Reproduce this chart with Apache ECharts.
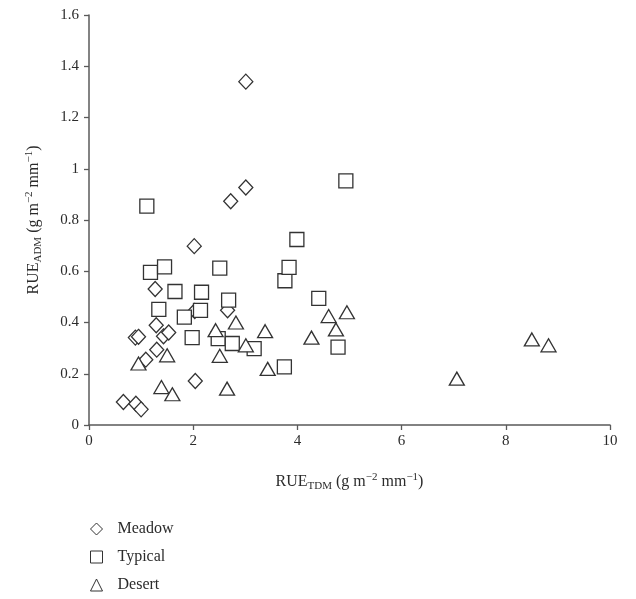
<!DOCTYPE html>
<html>
<head>
<meta charset="utf-8">
<script src="https://cdn.jsdelivr.net/npm/echarts@6/dist/echarts.min.js"></script>
<style>
  html, body { margin: 0; padding: 0; background: #fff; }
  #chart { width: 636px; height: 599px; }
</style>
</head>
<body>
<div id="chart"></div>
<script>
// RUE_TDM (x) vs RUE_ADM (y)
const meadow = [
  [0.66, 0.09], [0.90, 0.083], [1.00, 0.061], [0.89, 0.341], [0.95, 0.344],
  [1.09, 0.255], [1.27, 0.531], [1.29, 0.389], [1.30, 0.294], [1.43, 0.346],
  [1.53, 0.361], [2.02, 0.698], [2.04, 0.172], [2.03, 0.445], [2.66, 0.448],
  [2.72, 0.873], [3.01, 0.927], [3.01, 1.34]
];
const typical = [
  [1.11, 0.854], [1.18, 0.596], [1.45, 0.617], [1.34, 0.451], [1.65, 0.521],
  [1.83, 0.421], [1.98, 0.341], [2.14, 0.447], [2.16, 0.518], [2.48, 0.337],
  [2.51, 0.612], [2.68, 0.487], [2.75, 0.318], [3.17, 0.298], [3.75, 0.227],
  [3.76, 0.563], [3.84, 0.615], [3.99, 0.724], [4.41, 0.494], [4.78, 0.304],
  [4.93, 0.953]
];
const desert = [
  [0.95, 0.24], [1.39, 0.148], [1.50, 0.272], [1.60, 0.12], [2.43, 0.37],
  [2.51, 0.27], [2.65, 0.142], [2.82, 0.40], [3.01, 0.311], [3.38, 0.366],
  [3.43, 0.219], [4.27, 0.341], [4.60, 0.425], [4.74, 0.373], [4.95, 0.44],
  [7.06, 0.181], [8.50, 0.334], [8.82, 0.311]
];
const seriesNames = ["Meadow", "Typical", "Desert"];

const font = "'Liberation Serif', 'DejaVu Serif', serif";
const ink = "#2b2b2b";
const axisGray = "#5a5a5a";

const nameRich = {
  base: { fontFamily: font, fontSize: 16, color: ink },
  sub: { fontFamily: font, fontSize: 11, color: ink, padding: [9, 0, 0, 0] },
  sup: { fontFamily: font, fontSize: 11, color: ink, padding: [0, 0, 9, 0] }
};

function hollow(name, data, symbol, size) {
  return {
    name: name,
    type: "scatter",
    data: data,
    symbol: symbol,
    symbolSize: size,
    itemStyle: { color: "#fff", borderColor: "#333", borderWidth: 1.3, opacity: 1 },
    emphasis: { disabled: true }
  };
}

const chart = echarts.init(document.getElementById("chart"));
chart.setOption({
  backgroundColor: "#fff",
  animation: false,
  textStyle: { fontFamily: font },
  grid: { left: 89, right: 26, top: 15, bottom: 174 },
  legend: {
    orient: "vertical",
    left: 90,
    top: 521,
    padding: 0,
    itemWidth: 12,
    itemHeight: 12,
    itemGap: 12,
    data: seriesNames,
    itemStyle: { color: "#fff", borderColor: "#333", borderWidth: 1 },
    textStyle: { fontFamily: font, fontSize: 16, color: ink, padding: [0, 0, 0, 10] }
  },
  xAxis: {
    type: "value",
    min: 0,
    max: 10,
    interval: 2,
    name: "{base|RUE}{sub|TDM}{base| (g m}{sup|−2}{base| mm}{sup|−1}{base|)}",
    nameLocation: "middle",
    nameGap: 47,
    nameTextStyle: { rich: nameRich },
    axisLine: { lineStyle: { color: axisGray, width: 1.5 } },
    axisTick: { show: true, length: 5, lineStyle: { color: axisGray, width: 1.3 } },
    axisLabel: { fontFamily: font, fontSize: 15, color: ink, margin: 9 },
    splitLine: { show: false }
  },
  yAxis: {
    type: "value",
    min: 0,
    max: 1.6,
    interval: 0.2,
    name: "{base|RUE}{sub|ADM}{base| (g m}{sup|−2}{base| mm}{sup|−1}{base|)}",
    nameLocation: "middle",
    nameRotate: 90,
    nameGap: 45,
    nameTextStyle: { rich: nameRich },
    axisLine: { show: true, lineStyle: { color: axisGray, width: 1.5 } },
    axisTick: { show: true, length: 5, lineStyle: { color: axisGray, width: 1.3 } },
    axisLabel: { fontFamily: font, fontSize: 15, color: ink, margin: 10 },
    splitLine: { show: false }
  },
  series: [
    hollow(seriesNames[0], meadow, "diamond", [14, 15]),
    hollow(seriesNames[1], typical, "rect", 14),
    hollow(seriesNames[2], desert, "triangle", [15, 13])
  ]
});
</script>
</body>
</html>
